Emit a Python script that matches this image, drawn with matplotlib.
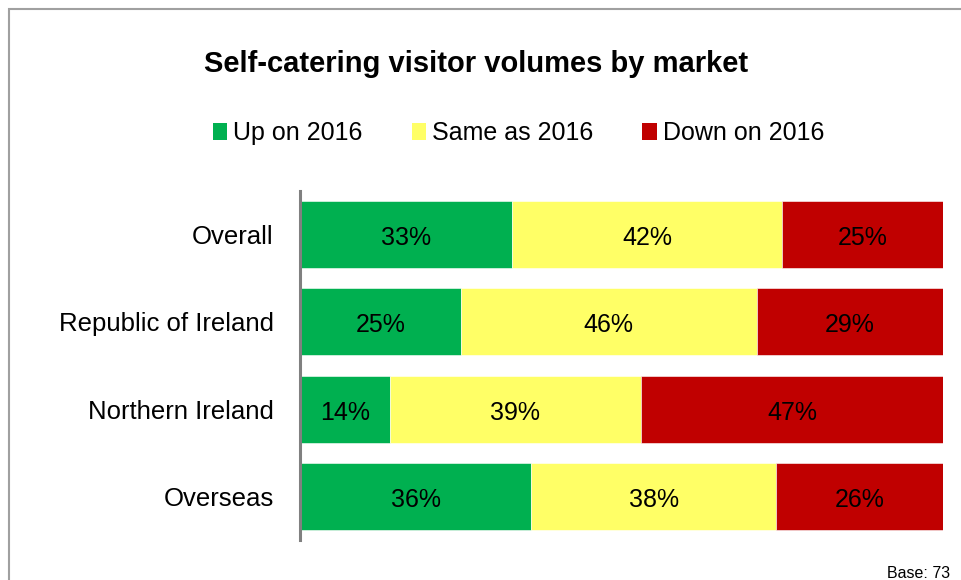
import matplotlib
matplotlib.use('Agg')
import matplotlib.pyplot as plt
from matplotlib.patches import Rectangle, Patch

plt.rcParams['font.family'] = ['Liberation Sans', 'DejaVu Sans']

# donnees
marches = ["Overall", "Republic of Ireland", "Northern Ireland", "Overseas"]
hausse = [33, 25, 14, 36]
pareil = [42, 46, 39, 38]
baisse = [25, 29, 47, 26]
series = ["Up on 2016", "Same as 2016", "Down on 2016"]
couleurs = ["#00B050", "#FFFF66", "#C00000"]

fig = plt.figure(figsize=(9.61, 5.8), dpi=100)
ax = fig.add_axes([300 / 961, 40 / 580, 643 / 961, 349 / 580])

y = list(range(len(marches)))
gauche = [0] * len(marches)
for valeurs, coul in zip([hausse, pareil, baisse], couleurs):
    ax.barh(y, valeurs, left=gauche, height=0.77, color=coul,
            edgecolor="white", linewidth=0.4)
    for yi, g, v in zip(y, gauche, valeurs):
        ax.text(g + v / 2, yi + 0.04, "%d%%" % v, ha="center", va="center",
                fontsize=18, color="black")
    gauche = [g + v for g, v in zip(gauche, valeurs)]

ax.set_xlim(0, 100)
ax.set_ylim(len(marches) - 0.5, -0.5)
ax.set_yticks(y)
ax.set_yticklabels(marches, fontsize=18.5)
ax.tick_params(axis="y", length=0, pad=19)
ax.set_xticks([])
for cote in ["top", "right", "bottom"]:
    ax.spines[cote].set_visible(False)
ax.spines["left"].set_color("#808080")
ax.spines["left"].set_linewidth(2.2)

fig.text(476 / 961, 1 - 64 / 580, "Self-catering visitor volumes by market",
         ha="center", va="center", fontsize=21, fontweight="bold")

poignees = [Patch(facecolor=c, edgecolor="none") for c in couleurs]
fig.legend(poignees, series, loc="center", bbox_to_anchor=(518.5 / 961, 1 - 133 / 580),
           ncol=3, frameon=False, fontsize=18, handlelength=0.58, handleheight=0.65,
           handletextpad=0.24, columnspacing=1.96, borderpad=0, borderaxespad=0)

fig.text(950 / 961, 1 - 573 / 580, "Base: 73", ha="right", va="center", fontsize=11.5)

# cadre gris qui deborde a droite et en bas
cadre = Rectangle((9 / 961, -0.1), 1.2, 1 - 9 / 580 + 0.1, transform=fig.transFigure,
                  fill=False, edgecolor="#A0A0A0", linewidth=1.5, clip_on=False)
fig.patches.append(cadre)

plt.savefig("out.png", dpi=100)
